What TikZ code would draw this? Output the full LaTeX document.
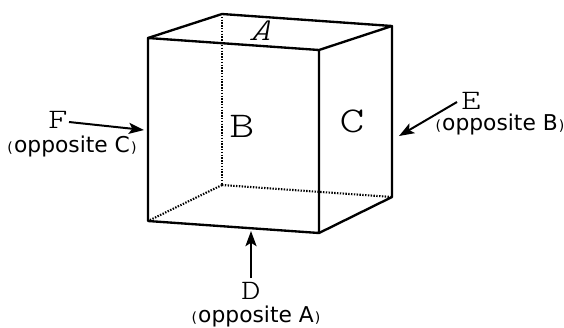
\documentclass[tikz,border=0pt]{standalone}
\usepackage{fontspec}
\setmainfont{DejaVu Sans}
\setmonofont[FakeStretch=1.3]{Latin Modern Mono Light}
\usetikzlibrary{arrows.meta}
\tikzset{
    edgeline/.style={line width=2pt, line join=round},
    hiddenline/.style={line width=1.8pt, dash pattern=on 1.2pt off 1.2pt},
    pointer/.style={-{Stealth[length=13pt, width=9.5pt, inset=3pt]}, line width=1.7pt},
    facelabel/.style={font=\ttfamily\fontsize{31}{31}\selectfont},
    viewlabel/.style={font=\ttfamily\fontsize{24}{24}\selectfont},
    notelabel/.style={font=\fontsize{18.6}{18.6}\selectfont}
}
\newcommand{\oppnote}[1]{{\fontsize{12}{12}\selectfont(}\kern1pt opposite #1\kern1pt{\fontsize{12}{12}\selectfont)}}
\begin{document}
\begin{tikzpicture}[x=0.03cm, y=-0.03cm]
    \useasboundingbox (0,0) rectangle (564,327);

    % Cube corners
    \coordinate (ftl) at (148,38);
    \coordinate (ftr) at (319,50);
    \coordinate (fbl) at (148,221);
    \coordinate (fbr) at (319,233);
    \coordinate (btl) at (222,14);
    \coordinate (btr) at (392,26);
    \coordinate (bbl) at (222,185);
    \coordinate (bbr) at (392,197);

    % Hidden edges
    \draw[hiddenline] (btl) -- (bbl);
    \draw[hiddenline] (bbl) -- (fbl);
    \draw[hiddenline] (bbl) -- (bbr);

    % Visible edges
    \draw[edgeline] (ftl) -- (ftr) -- (fbr) -- (fbl) -- cycle;
    \draw[edgeline] (ftl) -- (btl) -- (btr) -- (ftr);
    \draw[edgeline] (btr) -- (bbr) -- (fbr);

    % Face labels
    \node[facelabel, font=\ttfamily\itshape\fontsize{27}{27}\selectfont, xslant=0.25, transform shape] (faceA) at (262,31) {A};
    \node[facelabel] (faceB) at (242,126) {B};
    \node[facelabel] (faceC) at (352,121) {C};

    % View labels
    \node[viewlabel] (viewF) at (58,120) {F};
    \node[notelabel] (noteF) at (72,146) {\oppnote{C}};
    \node[viewlabel] (viewE) at (471,101) {E};
    \node[notelabel] (noteE) at (500,124) {\oppnote{B}};
    \node[viewlabel] (viewD) at (251,291) {D};
    \node[notelabel] (noteD) at (256,316) {\oppnote{A}};

    % Arrows
    \coordinate (tailF) at (69,122);
    \coordinate (headF) at (144,130);
    \coordinate (tailE) at (457,102);
    \coordinate (headE) at (399,136);
    \coordinate (tailD) at (251,278);
    \coordinate (headD) at (251,231);
    \draw[pointer] (tailF) -- (headF);
    \draw[pointer] (tailE) -- (headE);
    \draw[pointer] (tailD) -- (headD);
\end{tikzpicture}
\end{document}
